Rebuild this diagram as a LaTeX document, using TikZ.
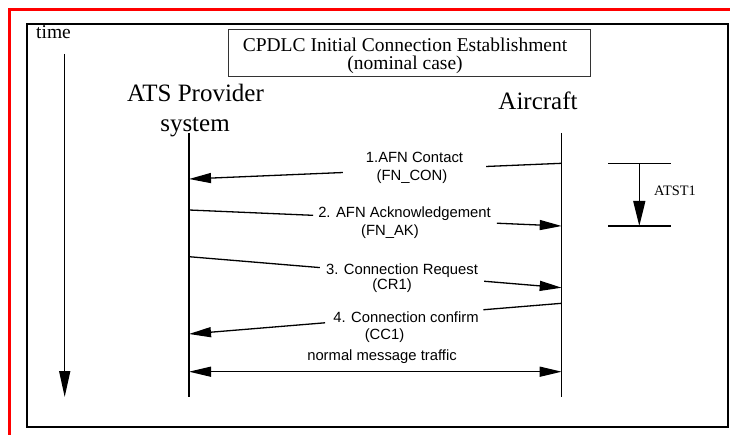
\documentclass[tikz,border=0pt]{standalone}
\usepackage{fontspec}
\setmainfont{Liberation Serif}
\setsansfont{Liberation Sans}
\usetikzlibrary{arrows.meta,calc}
\begin{document}
\begin{tikzpicture}[x=1pt,y=-1pt,
  hdr/.style={font=\fontsize{25}{30}\selectfont, inner sep=0pt, anchor=base},
  ttl/.style={font=\fontsize{19.5}{23}\selectfont, inner sep=0pt, anchor=base},
  lbl/.style={font=\sffamily\fontsize{14.8}{18}\selectfont, inner sep=0pt, anchor=base},
  life/.style={line width=1.3pt},
  msg/.style={line width=1.3pt, -{Triangle[length=22pt,width=10pt]}},
  both/.style={line width=1.3pt, {Triangle[length=22pt,width=10pt]}-{Triangle[length=22pt,width=10pt]}},
  timearrow/.style={line width=1.5pt, -{Triangle[length=26pt,width=11pt]}},
  timerline/.style={line width=1.3pt}
]
\useasboundingbox (0,0) rectangle (730,435);
\fill[white] (0,0) rectangle (730,435);
% outer frames
\draw[red, line width=3pt] (9.5,436) -- (9.5,10) -- (731,10);
\draw[line width=2.3pt] (26.8,24.3) rectangle (727.8,427);

% time axis
\node[ttl, anchor=base west] (timelbl) at (36,39) {time};
\coordinate (tA) at (64.7,54);
\coordinate (tB) at (64.7,397);
\draw[timearrow] (tA) -- (tB);

% title
\node[draw=black!80, line width=0.9pt, minimum width=362.7pt, minimum height=47pt, inner sep=0pt] (titlebox) at (409.4,52.5) {};
\node[ttl] (title1) at (405,51.7) {CPDLC Initial Connection Establishment};
\node[ttl] (title2) at (405,70) {(nominal case)};

% participants
\node[hdr] (ats1) at (195.5,102) {ATS Provider};
\node[hdr] (ats2) at (195,132) {system};
\node[hdr] (acft) at (538,110) {Aircraft};

% lifelines
\coordinate (atsT) at (189,133);
\coordinate (atsB) at (189,397);
\coordinate (acT) at (561.7,133);
\coordinate (acB) at (561.7,397);
\draw[life] (atsT) -- (atsB);
\draw[life] (acT) -- (acB);

% message end points
\coordinate (m1s) at (561.7,163.3); \coordinate (m1t) at (189,179);
\coordinate (m2s) at (189,210);     \coordinate (m2t) at (561.7,226);
\coordinate (m3s) at (189,256.7);   \coordinate (m3t) at (561.7,287.7);
\coordinate (m4s) at (561.7,303.3); \coordinate (m4t) at (189,334);
\coordinate (m5s) at (189,371.7);   \coordinate (m5t) at (561.7,371.7);

% gaps in the lines for the labels
\coordinate (g1a) at ($(m1s)!0.203!(m1t)$); \coordinate (g1b) at ($(m1s)!0.587!(m1t)$);
\coordinate (g2a) at ($(m2s)!0.333!(m2t)$); \coordinate (g2b) at ($(m2s)!0.826!(m2t)$);
\coordinate (g3a) at ($(m3s)!0.351!(m3t)$); \coordinate (g3b) at ($(m3s)!0.792!(m3t)$);
\coordinate (g4a) at ($(m4s)!0.210!(m4t)$); \coordinate (g4b) at ($(m4s)!0.635!(m4t)$);

\draw[msg] (m1s) -- (g1a) (g1b) -- (m1t);
\draw[msg] (m2s) -- (g2a) (g2b) -- (m2t);
\draw[msg] (m3s) -- (g3a) (g3b) -- (m3t);
\draw[msg] (m4s) -- (g4a) (g4b) -- (m4t);
\draw[both] (m5s) -- (m5t);

% labels
\node[lbl] (l1a) at (414.5,162.7) {1.AFN Contact};
\node[lbl] (l1b) at (412,180.5) {(FN\_CON)};
\node[lbl] (l2a) at (404.5,217.3) {2. AFN Acknowledgement};
\node[lbl] (l2b) at (390,235.5) {(FN\_AK)};
\node[lbl] (l3a) at (402,275) {3. Connection Request};
\node[lbl] (l3b) at (392,290) {(CR1)};
\node[lbl] (l4a) at (406,322.3) {4. Connection confirm};
\node[lbl] (l4b) at (384.5,339) {(CC1)};
\node[lbl] (l5) at (382,360) {normal message traffic};

% ATST1 timer
\coordinate (tmL1) at (608.3,163.3); \coordinate (tmR1) at (671,163.3);
\coordinate (tmL2) at (608.3,226);   \coordinate (tmR2) at (671,226);
\coordinate (tmA) at (639.3,163.3);  \coordinate (tmB) at (639.3,226);
\draw[timerline] (tmL1) -- (tmR1);
\draw[timerline] (tmL2) -- (tmR2);
\draw[line width=1.3pt, -{Triangle[length=25pt,width=12pt]}] (tmA) -- (tmB);
\node[font=\fontsize{14.4}{17}\selectfont, inner sep=0pt, anchor=base west] (atst) at (654,196) {ATST1};
\end{tikzpicture}
\end{document}
